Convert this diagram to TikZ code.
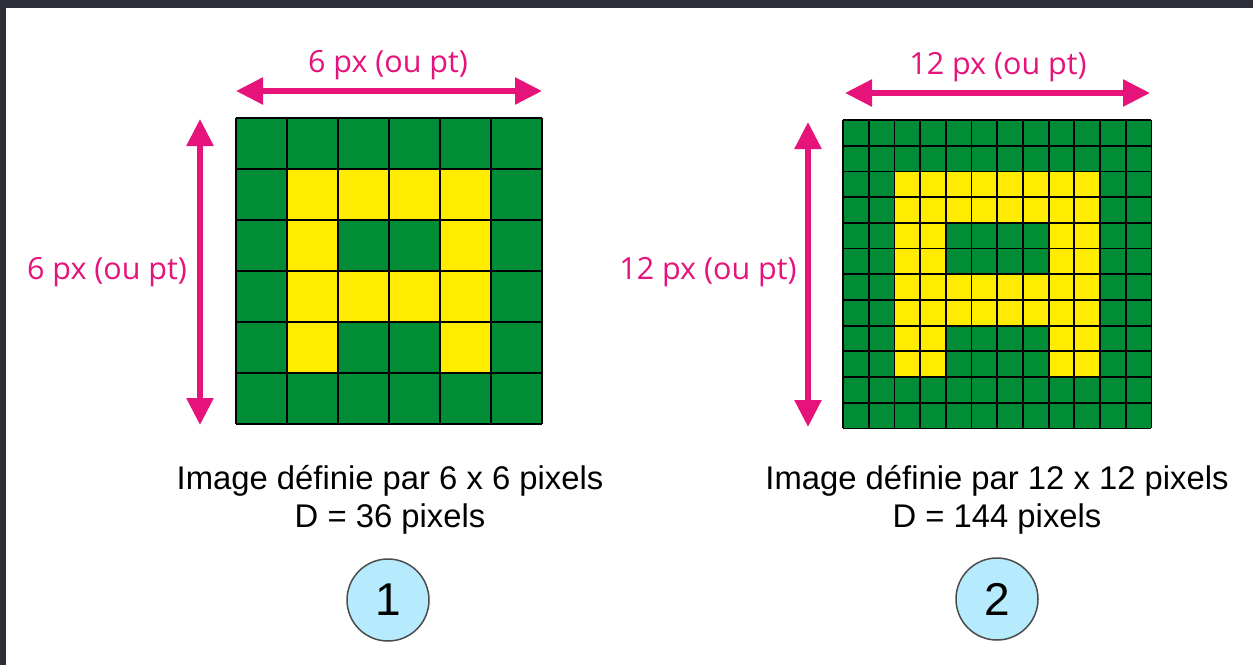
\documentclass[tikz,border=0pt]{standalone}
\usepackage{fontspec}
\setmainfont{Liberation Sans}
\newfontfamily\labelfont{Open Sans}
\usetikzlibrary{arrows.meta}
\definecolor{frame}{HTML}{2C2F39}
\definecolor{pxgreen}{HTML}{008D36}
\definecolor{pxyellow}{HTML}{FFEC00}
\definecolor{pink}{HTML}{E5137A}
\definecolor{bubble}{HTML}{B5EBFC}
\tikzset{
  dim/.style={draw=pink, line width=5.5pt, {Triangle[length=27pt,width=26pt]}-{Triangle[length=27pt,width=26pt]}},
  dimlabel/.style={text=pink, font=\labelfont\fontsize{30.5}{34}\selectfont, inner sep=0pt},
  caption/.style={font=\fontsize{32.8}{38}\selectfont, align=center, inner sep=0pt},
  badge/.style={circle, draw=black!70, line width=1.5pt, fill=bubble, minimum size=82pt, inner sep=0pt, font=\fontsize{46}{50}\selectfont},
  gridline/.style={draw=black, line width=2pt}
}
\begin{document}
\begin{tikzpicture}[x=1pt,y=-1pt]
\useasboundingbox (0,0) rectangle (1253,665);
\fill[frame] (0,0) rectangle (1253,665);
\fill[white] (6,8) rectangle (1253,665);
% left grid
\begin{scope}[shift={(236,118)}, x=51pt, y=-51pt]
  \fill[pxgreen] (0,0) rectangle (6,6);
  \fill[pxyellow] (1,1) rectangle (5,2) (1,3) rectangle (5,4) (1,1) rectangle (2,5) (4,1) rectangle (5,5);
  \foreach \i in {0,...,6} {
    \draw[gridline] (\i,0) -- (\i,6);
    \draw[gridline] (0,\i) -- (6,\i);
  }
\end{scope}
% right grid
\begin{scope}[shift={(843,120)}, x=25.7pt, y=-25.7pt]
  \fill[pxgreen] (0,0) rectangle (12,12);
  \fill[pxyellow] (2,2) rectangle (10,4) (2,6) rectangle (10,8) (2,2) rectangle (4,10) (8,2) rectangle (10,10);
  \foreach \i in {0,...,12} {
    \draw[gridline, line width=1.8pt] (\i,0) -- (\i,12);
    \draw[gridline, line width=1.8pt] (0,\i) -- (12,\i);
  }
\end{scope}
% dimension arrows
\coordinate (lh1) at (236,91); \coordinate (lh2) at (542,91);
\coordinate (lv1) at (200,119); \coordinate (lv2) at (200,425);
\coordinate (rh1) at (845,93); \coordinate (rh2) at (1150,93);
\coordinate (rv1) at (808,122); \coordinate (rv2) at (808,427);
\draw[dim] (lh1) -- (lh2);
\draw[dim] (lv1) -- (lv2);
\draw[dim] (rh1) -- (rh2);
\draw[dim] (rv1) -- (rv2);
\node[dimlabel] (lt) at (388,65) {6 px (ou pt)};
\node[dimlabel] (ll) at (107,272) {6 px (ou pt)};
\node[dimlabel] (rt) at (998,67) {12 px (ou pt)};
\node[dimlabel] (rl) at (708,272) {12 px (ou pt)};
% captions
\node[caption] (c1) at (390,500) {Image définie par 6 x 6 pixels\\D = 36 pixels};
\node[caption] (c2) at (997,500) {Image définie par 12 x 12 pixels\\D = 144 pixels};
% badges
\node[badge] (b1) at (388,600) {1};
\node[badge] (b2) at (997,599) {2};
\end{tikzpicture}
\end{document}
